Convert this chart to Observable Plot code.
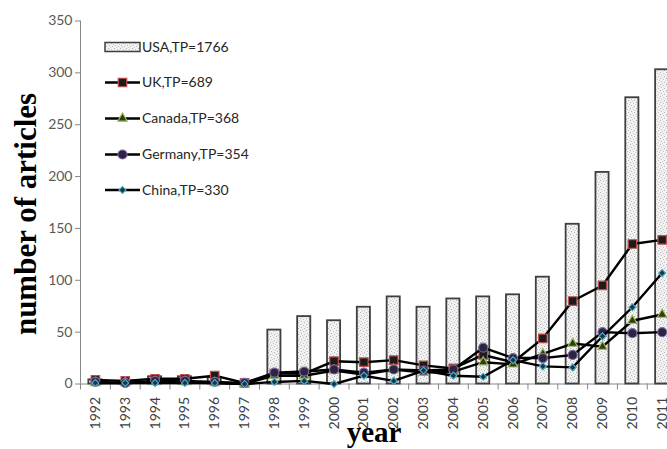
<!DOCTYPE html>
<html><head><meta charset="utf-8">
<script src="https://cdn.jsdelivr.net/npm/d3@7"></script>
<script src="https://cdn.jsdelivr.net/npm/@observablehq/plot@0.6"></script>
<style>
body{margin:0;background:#fff;}
#chart{width:667px;height:449px;overflow:hidden;position:relative;}
</style></head><body><div id="chart"></div>
<script>
const years = [1992,1993,1994,1995,1996,1997,1998,1999,2000,2001,2002,2003,2004,2005,2006,2007,2008,2009,2010,2011];
const usa = [4,2,7,7,6,1,52,65,61,74,84,74,82,84,86,103,154,204,276,303];
const uk = [4,3,5,5,8,1,10,10,22,21,23,18,15,28,21,44,80,95,135,139];
const canada = [1,1,2,2,1,0,8,8,13,9,14,11,12,21,19,29,39,36,61,67];
const germany = [2,1,3,3,2,1,11,12,14,11,14,13,14,35,25,25,28,50,49,50];
const china = [1,1,1,1,1,0,2,3,0,8,3,13,8,7,23,17,16,46,74,107];
const seriesNames = ["USA","UK","Canada","Germany","China"];
const seriesTotals = [1766,689,368,354,330];
const yTicks = [0,50,100,150,200,250,300,350];

const data = years.map((year,i)=>({year, usa:usa[i], uk:uk[i], canada:canada[i], germany:germany[i], china:china[i]}));
const edges = years.map(y=>y-0.5).concat([years[years.length-1]+0.5]);

const lineSeries = [
  {key:"uk", symbol:"square", r:4.8, fill:"#1c1c1c", stroke:"#c0504d", rotate:0},
  {key:"canada", symbol:"triangle", r:3.5, fill:"#2f3a16", stroke:"#9bbb59", rotate:0},
  {key:"germany", symbol:"circle", r:4.5, fill:"#2a2540", stroke:"#8064a2", rotate:0},
  {key:"china", symbol:"square", r:2.8, fill:"#17364a", stroke:"#4bacc6", rotate:45}
];

const marks = [
  Plot.ruleX([years[0]-0.5], {stroke:"#868686"}),
  Plot.ruleY([0], {stroke:"#868686"}),
  Plot.axisY({ticks: yTicks, tickSize:5, tickPadding:3, stroke:"#868686", fill:"#595959", fontSize:14, label:null}),
  Plot.axisX({ticks: edges, tickSize:6, tickFormat:()=>"", stroke:"#868686", label:null}),
  Plot.axisX({ticks: years, tickSize:0, tickPadding:13, tickRotate:-90, tickFormat:d=>String(d), fill:"#404040", fontSize:14, label:null}),
  Plot.rectY(data, {x1:d=>d.year-0.22, x2:d=>d.year+0.22, y:"usa", fill:"url(#stip)", stroke:"#3f3f3f", strokeWidth:1.8})
];
for (const s of lineSeries) {
  marks.push(Plot.line(data, {x:"year", y:s.key, stroke:"black", strokeWidth:2.4}));
  marks.push(Plot.dot(data, {x:"year", y:s.key, symbol:s.symbol, r:s.r, fill:s.fill, stroke:s.stroke, strokeWidth:1.2, rotate:s.rotate}));
}

const svg = Plot.plot({
  width: 667, height: 449,
  marginTop: 20.5, marginBottom: 65.5, marginLeft: 80, marginRight: 0,
  style: {fontFamily:"Lato", background:"white", overflow:"hidden"},
  x: {type:"linear", domain:[years[0]-0.5, years[years.length-1]+0.5], range:[80, 676.6]},
  y: {domain:[0,350]},
  marks
});

const s = d3.select(svg);
const defs = s.insert("defs", ":first-child");
const pat = defs.append("pattern").attr("id","stip").attr("patternUnits","userSpaceOnUse").attr("width",6).attr("height",6);
pat.append("rect").attr("width",6).attr("height",6).attr("fill","#f2f2f2");
[[0,0,"#b0b0b0"],[3,1,"#c4c4c4"],[1,3,"#bdbdbd"],[4,4,"#b5b5b5"],[5,2,"#d2d2d2"],[2,5,"#d0d0d0"]].forEach(([x,y,c])=>{
  pat.append("rect").attr("x",x).attr("y",y).attr("width",1).attr("height",1).attr("fill",c);
});

// axis titles
s.append("text").attr("transform","translate(36,214) rotate(-90)").attr("text-anchor","middle")
  .attr("font-family","'Liberation Serif', serif").attr("font-weight","bold").attr("font-size",31).attr("fill","black")
  .text("number of articles");
s.append("text").attr("x",374).attr("y",442).attr("text-anchor","middle")
  .attr("font-family","'Liberation Serif', serif").attr("font-weight","bold").attr("font-size",29).attr("fill","black")
  .text("year");

// legend
const lg = s.append("g").attr("font-family","Lato").attr("font-size",14).attr("fill","#262626").attr("text-anchor","start");
const rowY = [47, 82.5, 118.5, 154.5, 190];
const symMap = {square:d3.symbolSquare, triangle:d3.symbolTriangle, circle:d3.symbolCircle};
seriesNames.forEach((name,i)=>{
  const y = rowY[i];
  if (i===0) {
    lg.append("rect").attr("x",105).attr("y",y-4.5).attr("width",35).attr("height",9)
      .attr("fill","url(#stip)").attr("stroke","#3f3f3f").attr("stroke-width",1.5);
  } else {
    const ls = lineSeries[i-1];
    lg.append("line").attr("x1",105).attr("x2",140).attr("y1",y).attr("y2",y).attr("stroke","black").attr("stroke-width",2.4);
    lg.append("path").attr("d", d3.symbol(symMap[ls.symbol], Math.PI*ls.r*ls.r)())
      .attr("transform",`translate(122.5,${y}) rotate(${ls.rotate})`)
      .attr("fill",ls.fill).attr("stroke",ls.stroke).attr("stroke-width",1.2);
  }
  lg.append("text").attr("x",142).attr("y",y).attr("dy","0.35em").text(`${name},TP=${seriesTotals[i]}`);
});

document.getElementById("chart").appendChild(svg);
</script></body></html>
